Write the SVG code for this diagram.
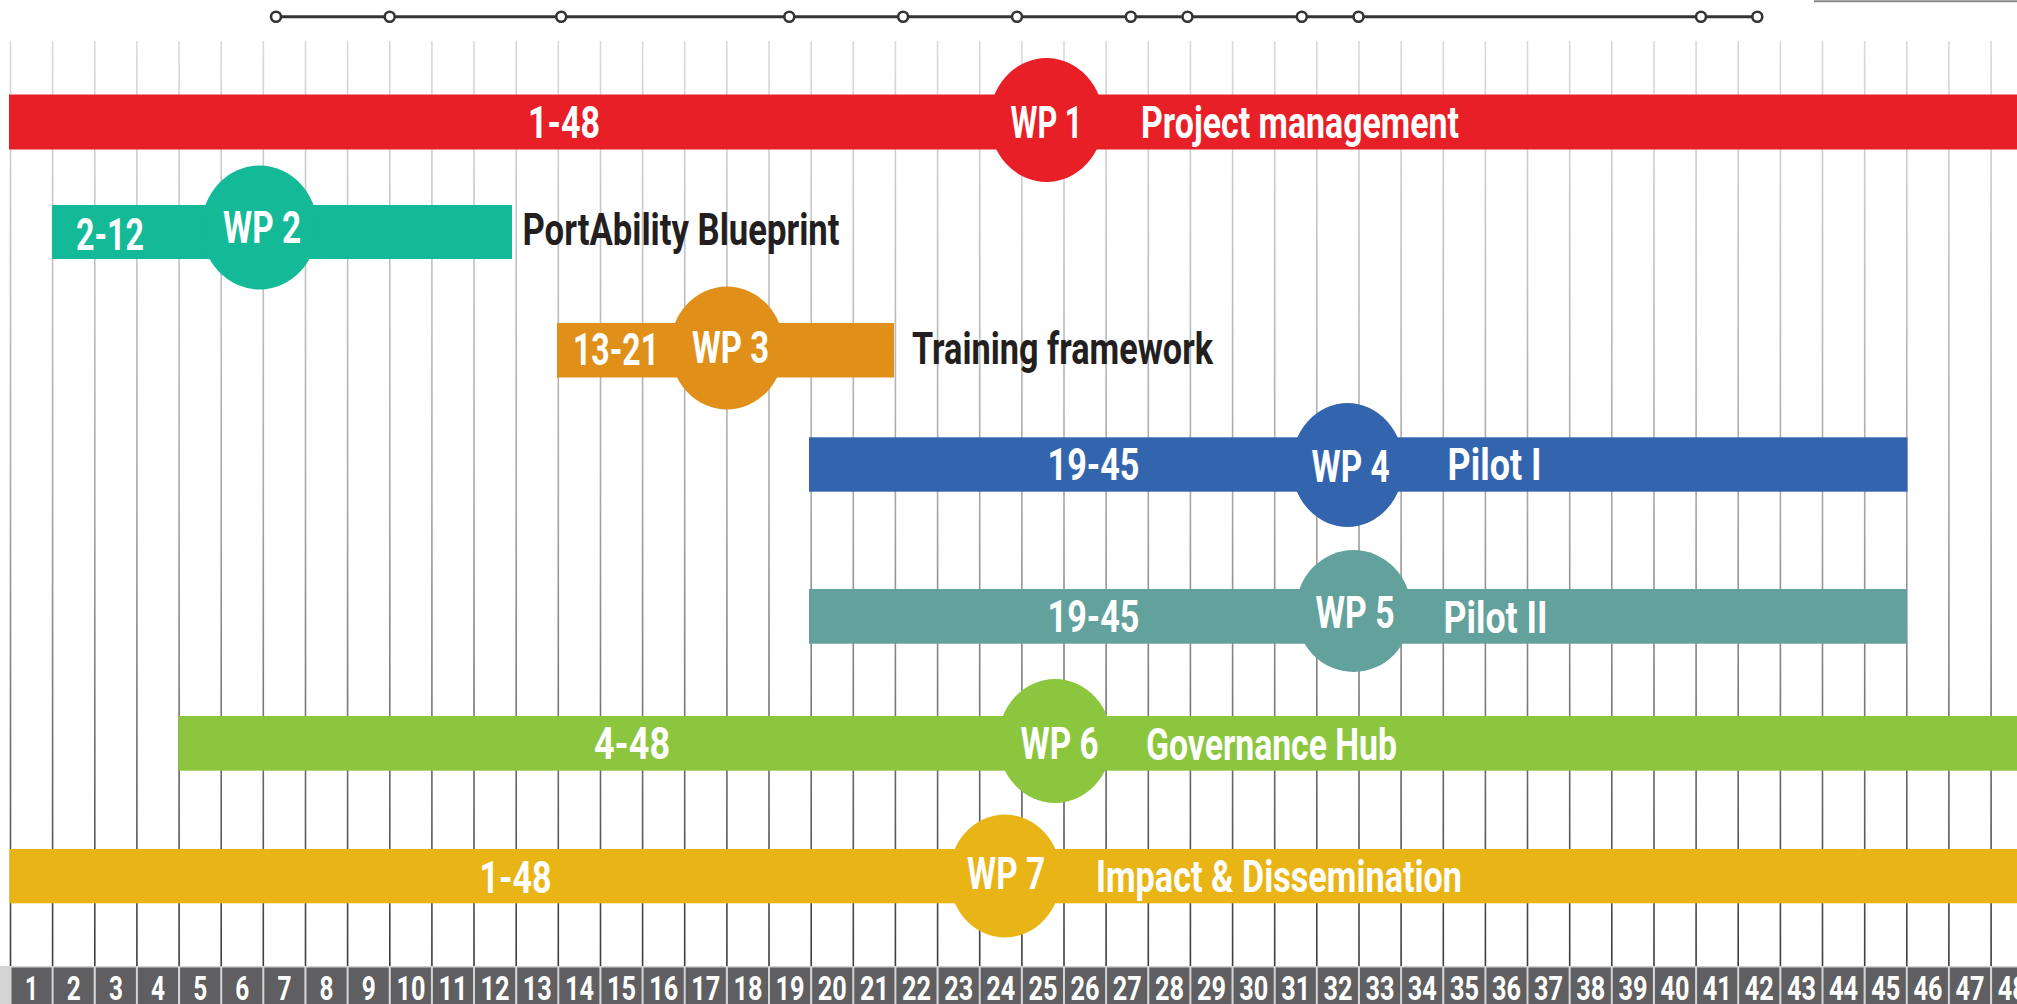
<svg xmlns="http://www.w3.org/2000/svg" width="2017" height="1004" viewBox="0 0 2017 1004">
<defs>
<linearGradient id="gridGrad" gradientUnits="userSpaceOnUse" x1="0" y1="41" x2="0" y2="966">
<stop offset="0" stop-color="#dadada"/>
<stop offset="0.5" stop-color="#a6a6a6"/>
<stop offset="1" stop-color="#3c3c3c"/>
</linearGradient>
</defs>
<style>
.grid{fill:none;stroke:url(#gridGrad);stroke-width:1.6}
.lbox{fill:#5f5f61}
.lnum{font-family:Roboto,"Liberation Sans",sans-serif;font-weight:700;font-size:34px;fill:#fff;text-anchor:middle}
.t{font-family:Roboto,"Liberation Sans",sans-serif;font-weight:700;font-size:45px;fill:#fff}
.dark{fill:#231f20}
.tl{stroke:#333436;stroke-width:3;fill:none}
.ms{fill:#fff;stroke:#333436;stroke-width:2.6}
</style>
<rect width="2017" height="1004" fill="#fff"/>
<line x1="1814" y1="1.2" x2="2017" y2="1.2" stroke="#8a8a8a" stroke-width="2"/>
<g id="grid">
<path class="grid" d="M10.5 41V966M52.6 41V966M94.8 41V966M136.9 41V966M179.1 41V966M221.2 41V966M263.3 41V966M305.5 41V966M347.6 41V966M389.8 41V966M431.9 41V966M474 41V966M516.2 41V966M558.3 41V966M600.5 41V966M642.6 41V966M684.7 41V966M726.9 41V966M769 41V966M811.2 41V966M853.3 41V966M895.4 41V966M937.6 41V966M979.7 41V966M1021.9 41V966M1064 41V966M1106.1 41V966M1148.3 41V966M1190.4 41V966M1232.6 41V966M1274.7 41V966M1316.8 41V966M1359 41V966M1401.1 41V966M1443.3 41V966M1485.4 41V966M1527.5 41V966M1569.7 41V966M1611.8 41V966M1654 41V966M1696.1 41V966M1738.2 41V966M1780.4 41V966M1822.5 41V966M1864.7 41V966M1906.8 41V966M1948.9 41V966M1991.1 41V966"/>
</g>
<g id="months">
<rect x="0" y="966" width="2017" height="38" fill="#d4d4d4"/>
<rect class="lbox" x="11.5" y="967.5" width="40.1" height="37"/><text class="lnum" x="31.6" y="1000" textLength="13" lengthAdjust="spacingAndGlyphs">1</text>
<rect class="lbox" x="53.6" y="967.5" width="40.1" height="37"/><text class="lnum" x="73.7" y="1000" textLength="14" lengthAdjust="spacingAndGlyphs">2</text>
<rect class="lbox" x="95.8" y="967.5" width="40.1" height="37"/><text class="lnum" x="115.9" y="1000" textLength="14" lengthAdjust="spacingAndGlyphs">3</text>
<rect class="lbox" x="137.9" y="967.5" width="40.1" height="37"/><text class="lnum" x="158" y="1000" textLength="14" lengthAdjust="spacingAndGlyphs">4</text>
<rect class="lbox" x="180.1" y="967.5" width="40.1" height="37"/><text class="lnum" x="200.2" y="1000" textLength="14" lengthAdjust="spacingAndGlyphs">5</text>
<rect class="lbox" x="222.2" y="967.5" width="40.1" height="37"/><text class="lnum" x="242.3" y="1000" textLength="14" lengthAdjust="spacingAndGlyphs">6</text>
<rect class="lbox" x="264.3" y="967.5" width="40.1" height="37"/><text class="lnum" x="284.4" y="1000" textLength="14" lengthAdjust="spacingAndGlyphs">7</text>
<rect class="lbox" x="306.5" y="967.5" width="40.1" height="37"/><text class="lnum" x="326.6" y="1000" textLength="14" lengthAdjust="spacingAndGlyphs">8</text>
<rect class="lbox" x="348.6" y="967.5" width="40.1" height="37"/><text class="lnum" x="368.7" y="1000" textLength="14" lengthAdjust="spacingAndGlyphs">9</text>
<rect class="lbox" x="390.8" y="967.5" width="40.1" height="37"/><text class="lnum" x="410.9" y="1000" textLength="29" lengthAdjust="spacingAndGlyphs">10</text>
<rect class="lbox" x="432.9" y="967.5" width="40.1" height="37"/><text class="lnum" x="453" y="1000" textLength="29" lengthAdjust="spacingAndGlyphs">11</text>
<rect class="lbox" x="475" y="967.5" width="40.1" height="37"/><text class="lnum" x="495.1" y="1000" textLength="29" lengthAdjust="spacingAndGlyphs">12</text>
<rect class="lbox" x="517.2" y="967.5" width="40.1" height="37"/><text class="lnum" x="537.3" y="1000" textLength="29" lengthAdjust="spacingAndGlyphs">13</text>
<rect class="lbox" x="559.3" y="967.5" width="40.1" height="37"/><text class="lnum" x="579.4" y="1000" textLength="29" lengthAdjust="spacingAndGlyphs">14</text>
<rect class="lbox" x="601.5" y="967.5" width="40.1" height="37"/><text class="lnum" x="621.6" y="1000" textLength="29" lengthAdjust="spacingAndGlyphs">15</text>
<rect class="lbox" x="643.6" y="967.5" width="40.1" height="37"/><text class="lnum" x="663.7" y="1000" textLength="29" lengthAdjust="spacingAndGlyphs">16</text>
<rect class="lbox" x="685.7" y="967.5" width="40.1" height="37"/><text class="lnum" x="705.8" y="1000" textLength="29" lengthAdjust="spacingAndGlyphs">17</text>
<rect class="lbox" x="727.9" y="967.5" width="40.1" height="37"/><text class="lnum" x="748" y="1000" textLength="29" lengthAdjust="spacingAndGlyphs">18</text>
<rect class="lbox" x="770" y="967.5" width="40.1" height="37"/><text class="lnum" x="790.1" y="1000" textLength="29" lengthAdjust="spacingAndGlyphs">19</text>
<rect class="lbox" x="812.2" y="967.5" width="40.1" height="37"/><text class="lnum" x="832.3" y="1000" textLength="29" lengthAdjust="spacingAndGlyphs">20</text>
<rect class="lbox" x="854.3" y="967.5" width="40.1" height="37"/><text class="lnum" x="874.4" y="1000" textLength="29" lengthAdjust="spacingAndGlyphs">21</text>
<rect class="lbox" x="896.4" y="967.5" width="40.1" height="37"/><text class="lnum" x="916.5" y="1000" textLength="29" lengthAdjust="spacingAndGlyphs">22</text>
<rect class="lbox" x="938.6" y="967.5" width="40.1" height="37"/><text class="lnum" x="958.7" y="1000" textLength="29" lengthAdjust="spacingAndGlyphs">23</text>
<rect class="lbox" x="980.7" y="967.5" width="40.1" height="37"/><text class="lnum" x="1000.8" y="1000" textLength="29" lengthAdjust="spacingAndGlyphs">24</text>
<rect class="lbox" x="1022.9" y="967.5" width="40.1" height="37"/><text class="lnum" x="1043" y="1000" textLength="29" lengthAdjust="spacingAndGlyphs">25</text>
<rect class="lbox" x="1065" y="967.5" width="40.1" height="37"/><text class="lnum" x="1085.1" y="1000" textLength="29" lengthAdjust="spacingAndGlyphs">26</text>
<rect class="lbox" x="1107.1" y="967.5" width="40.1" height="37"/><text class="lnum" x="1127.2" y="1000" textLength="29" lengthAdjust="spacingAndGlyphs">27</text>
<rect class="lbox" x="1149.3" y="967.5" width="40.1" height="37"/><text class="lnum" x="1169.4" y="1000" textLength="29" lengthAdjust="spacingAndGlyphs">28</text>
<rect class="lbox" x="1191.4" y="967.5" width="40.1" height="37"/><text class="lnum" x="1211.5" y="1000" textLength="29" lengthAdjust="spacingAndGlyphs">29</text>
<rect class="lbox" x="1233.6" y="967.5" width="40.1" height="37"/><text class="lnum" x="1253.7" y="1000" textLength="29" lengthAdjust="spacingAndGlyphs">30</text>
<rect class="lbox" x="1275.7" y="967.5" width="40.1" height="37"/><text class="lnum" x="1295.8" y="1000" textLength="29" lengthAdjust="spacingAndGlyphs">31</text>
<rect class="lbox" x="1317.8" y="967.5" width="40.1" height="37"/><text class="lnum" x="1337.9" y="1000" textLength="29" lengthAdjust="spacingAndGlyphs">32</text>
<rect class="lbox" x="1360" y="967.5" width="40.1" height="37"/><text class="lnum" x="1380.1" y="1000" textLength="29" lengthAdjust="spacingAndGlyphs">33</text>
<rect class="lbox" x="1402.1" y="967.5" width="40.1" height="37"/><text class="lnum" x="1422.2" y="1000" textLength="29" lengthAdjust="spacingAndGlyphs">34</text>
<rect class="lbox" x="1444.3" y="967.5" width="40.1" height="37"/><text class="lnum" x="1464.4" y="1000" textLength="29" lengthAdjust="spacingAndGlyphs">35</text>
<rect class="lbox" x="1486.4" y="967.5" width="40.1" height="37"/><text class="lnum" x="1506.5" y="1000" textLength="29" lengthAdjust="spacingAndGlyphs">36</text>
<rect class="lbox" x="1528.5" y="967.5" width="40.1" height="37"/><text class="lnum" x="1548.6" y="1000" textLength="29" lengthAdjust="spacingAndGlyphs">37</text>
<rect class="lbox" x="1570.7" y="967.5" width="40.1" height="37"/><text class="lnum" x="1590.8" y="1000" textLength="29" lengthAdjust="spacingAndGlyphs">38</text>
<rect class="lbox" x="1612.8" y="967.5" width="40.1" height="37"/><text class="lnum" x="1632.9" y="1000" textLength="29" lengthAdjust="spacingAndGlyphs">39</text>
<rect class="lbox" x="1655" y="967.5" width="40.1" height="37"/><text class="lnum" x="1675.1" y="1000" textLength="29" lengthAdjust="spacingAndGlyphs">40</text>
<rect class="lbox" x="1697.1" y="967.5" width="40.1" height="37"/><text class="lnum" x="1717.2" y="1000" textLength="29" lengthAdjust="spacingAndGlyphs">41</text>
<rect class="lbox" x="1739.2" y="967.5" width="40.1" height="37"/><text class="lnum" x="1759.3" y="1000" textLength="29" lengthAdjust="spacingAndGlyphs">42</text>
<rect class="lbox" x="1781.4" y="967.5" width="40.1" height="37"/><text class="lnum" x="1801.5" y="1000" textLength="29" lengthAdjust="spacingAndGlyphs">43</text>
<rect class="lbox" x="1823.5" y="967.5" width="40.1" height="37"/><text class="lnum" x="1843.6" y="1000" textLength="29" lengthAdjust="spacingAndGlyphs">44</text>
<rect class="lbox" x="1865.7" y="967.5" width="40.1" height="37"/><text class="lnum" x="1885.8" y="1000" textLength="29" lengthAdjust="spacingAndGlyphs">45</text>
<rect class="lbox" x="1907.8" y="967.5" width="40.1" height="37"/><text class="lnum" x="1927.9" y="1000" textLength="29" lengthAdjust="spacingAndGlyphs">46</text>
<rect class="lbox" x="1949.9" y="967.5" width="40.1" height="37"/><text class="lnum" x="1970" y="1000" textLength="29" lengthAdjust="spacingAndGlyphs">47</text>
<rect class="lbox" x="1992.1" y="967.5" width="40.1" height="37"/><text class="lnum" x="2012.2" y="1000" textLength="29" lengthAdjust="spacingAndGlyphs">48</text>
</g>
<g id="connectors">
<line class="tl" x1="276" y1="16.7" x2="1757.3" y2="16.7"/>
</g>
<g id="milestones">
<circle class="ms" cx="276" cy="16.7" r="5"/>
<circle class="ms" cx="389.7" cy="16.7" r="5"/>
<circle class="ms" cx="561.2" cy="16.7" r="5"/>
<circle class="ms" cx="789.3" cy="16.7" r="5"/>
<circle class="ms" cx="903.1" cy="16.7" r="5"/>
<circle class="ms" cx="1017" cy="16.7" r="5"/>
<circle class="ms" cx="1130.8" cy="16.7" r="5"/>
<circle class="ms" cx="1187.5" cy="16.7" r="5"/>
<circle class="ms" cx="1301.8" cy="16.7" r="5"/>
<circle class="ms" cx="1358.5" cy="16.7" r="5"/>
<circle class="ms" cx="1701" cy="16.7" r="5"/>
<circle class="ms" cx="1757.3" cy="16.7" r="5"/>
</g>
<g id="wp1">
<rect x="9" y="94.5" width="2008" height="55" fill="#e81f26"/>
<ellipse cx="1046.5" cy="120" rx="57" ry="62" fill="#e81f26"/>
<text class="t" x="528" y="137.5" textLength="72" lengthAdjust="spacingAndGlyphs">1-48</text>
<text class="t" x="1010.5" y="138" textLength="72" lengthAdjust="spacingAndGlyphs">WP 1</text>
<text class="t" x="1141" y="137.5" textLength="318" lengthAdjust="spacingAndGlyphs">Project management</text>
</g>
<g id="wp2">
<rect x="52" y="205" width="460" height="54" fill="#14b998"/>
<ellipse cx="259.5" cy="227.5" rx="58" ry="62" fill="#14b998"/>
<text class="t" x="76" y="249.5" textLength="68" lengthAdjust="spacingAndGlyphs">2-12</text>
<text class="t" x="223" y="243" textLength="78" lengthAdjust="spacingAndGlyphs">WP 2</text>
<text class="t dark" x="522.5" y="245" textLength="317" lengthAdjust="spacingAndGlyphs">PortAbility Blueprint</text>
</g>
<g id="wp3">
<rect x="557" y="323" width="337" height="54.5" fill="#e09019"/>
<ellipse cx="727" cy="348" rx="57" ry="61.5" fill="#e09019"/>
<text class="t" x="573" y="365" textLength="86" lengthAdjust="spacingAndGlyphs">13-21</text>
<text class="t" x="692" y="362.7" textLength="77" lengthAdjust="spacingAndGlyphs">WP 3</text>
<text class="t dark" x="912" y="364" textLength="301" lengthAdjust="spacingAndGlyphs">Training framework</text>
</g>
<g id="wp4">
<rect x="809" y="437.3" width="1098.5" height="54.4" fill="#3365ae"/>
<ellipse cx="1347.5" cy="465" rx="56" ry="62" fill="#3365ae"/>
<text class="t" x="1047.5" y="479.5" textLength="92" lengthAdjust="spacingAndGlyphs">19-45</text>
<text class="t" x="1311.5" y="481.5" textLength="78" lengthAdjust="spacingAndGlyphs">WP 4</text>
<text class="t" x="1447.5" y="480" textLength="94" lengthAdjust="spacingAndGlyphs">Pilot I</text>
</g>
<g id="wp5">
<rect x="809" y="589" width="1098" height="54.7" fill="#62a19c"/>
<ellipse cx="1353.5" cy="611" rx="58" ry="61" fill="#62a19c"/>
<text class="t" x="1047.5" y="631.7" textLength="92" lengthAdjust="spacingAndGlyphs">19-45</text>
<text class="t" x="1315.5" y="628.3" textLength="79" lengthAdjust="spacingAndGlyphs">WP 5</text>
<text class="t" x="1443.5" y="633" textLength="104" lengthAdjust="spacingAndGlyphs">Pilot II</text>
</g>
<g id="wp6">
<rect x="178.5" y="716" width="1838.5" height="54.7" fill="#8cc63f"/>
<ellipse cx="1055" cy="741" rx="57" ry="62" fill="#8cc63f"/>
<text class="t" x="594" y="759" textLength="76" lengthAdjust="spacingAndGlyphs">4-48</text>
<text class="t" x="1020.5" y="759" textLength="78" lengthAdjust="spacingAndGlyphs">WP 6</text>
<text class="t" x="1146" y="760" textLength="251" lengthAdjust="spacingAndGlyphs">Governance Hub</text>
</g>
<g id="wp7">
<rect x="9.5" y="849" width="2007.5" height="54.3" fill="#e9b415"/>
<ellipse cx="1005" cy="876" rx="56" ry="61.5" fill="#e9b415"/>
<text class="t" x="479.5" y="893.3" textLength="72" lengthAdjust="spacingAndGlyphs">1-48</text>
<text class="t" x="967" y="889.3" textLength="78" lengthAdjust="spacingAndGlyphs">WP 7</text>
<text class="t" x="1096" y="892" textLength="366" lengthAdjust="spacingAndGlyphs">Impact &amp; Dissemination</text>
</g>
</svg>
